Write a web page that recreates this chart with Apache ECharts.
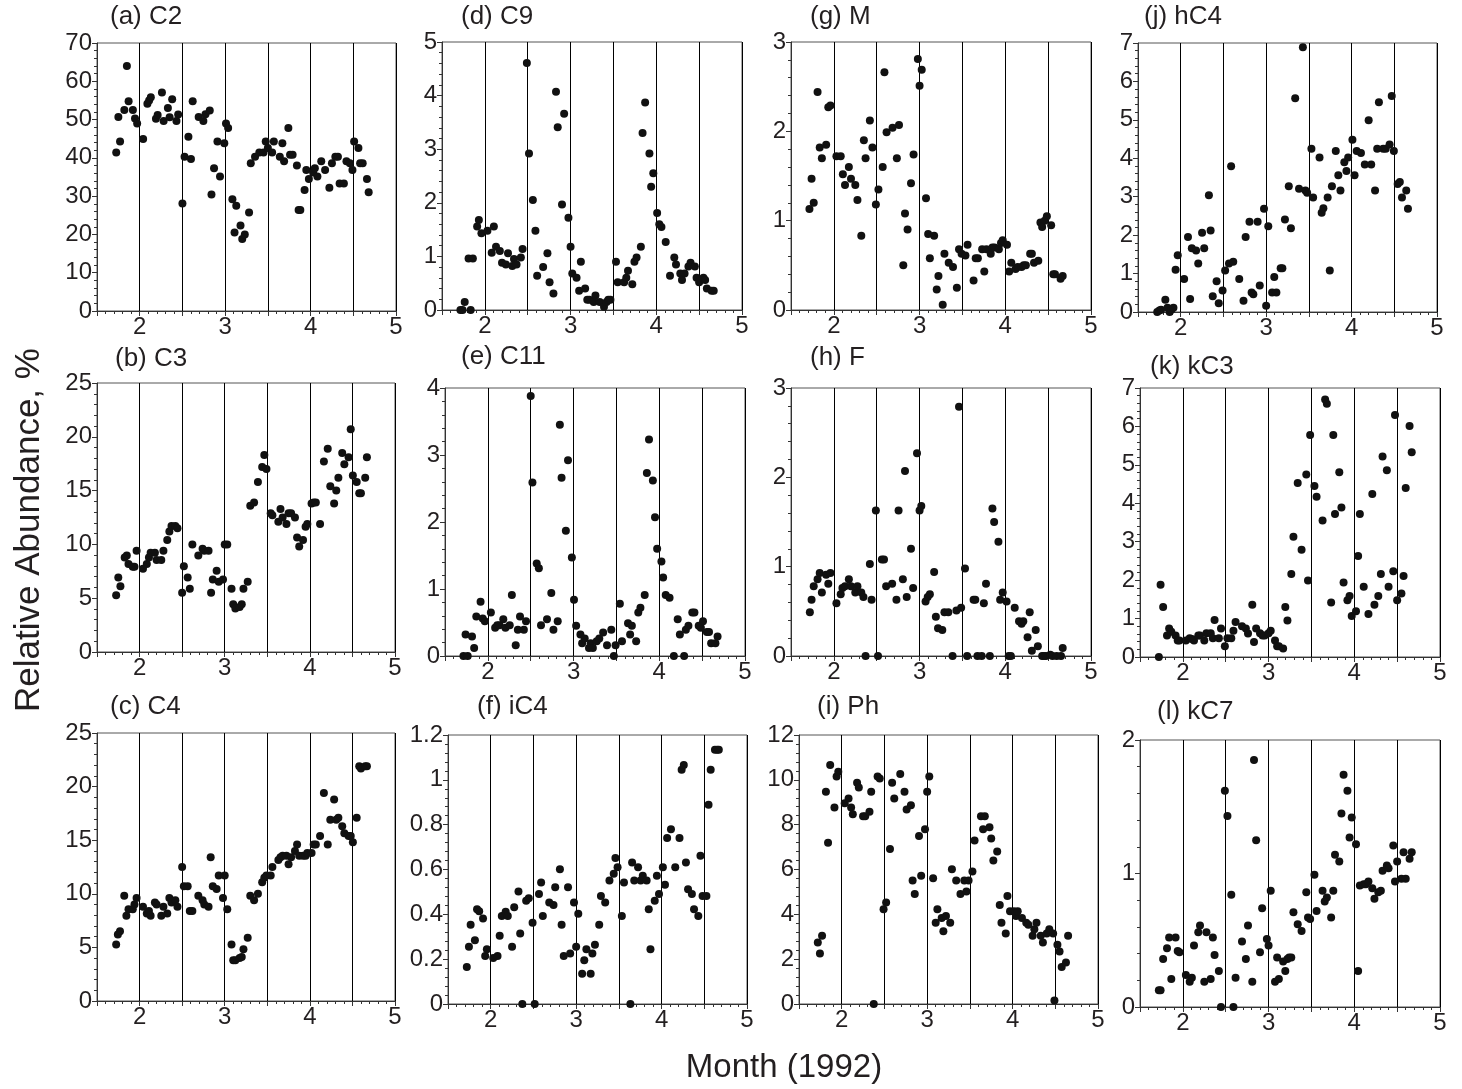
<!DOCTYPE html>
<html>
<head>
<meta charset="utf-8">
<script src="https://cdn.jsdelivr.net/npm/echarts@6/dist/echarts.min.js"></script>
<style>
html,body{margin:0;padding:0;background:#fff;}
#chart{width:1462px;height:1089px;}
</style>
</head>
<body>
<div id="chart"></div>
<script>
// ---- data: [month, relative abundance %] ----
const C2 = [[1.725,41.4],[1.75,50.7],[1.77,44.3],[1.82,52.5],[1.85,64.0],[1.87,54.8],[1.92,52.5],[1.945,50.3],[1.97,49.0],[2.04,44.9],[2.09,54.1],[2.11,55.0],[2.13,55.8],[2.19,50.2],[2.21,51.2],[2.26,57.1],[2.28,49.6],[2.33,53.0],[2.35,50.6],[2.38,55.3],[2.43,49.6],[2.45,51.3],[2.50,28.1],[2.525,40.3],[2.57,45.5],[2.60,39.7],[2.62,54.8],[2.69,50.7],[2.745,49.6],[2.77,51.4],[2.82,52.4],[2.84,30.4],[2.87,37.3],[2.91,44.3],[2.94,35.1],[2.99,43.8],[3.01,49.0],[3.035,47.8],[3.085,29.2],[3.11,20.5],[3.13,27.5],[3.18,22.3],[3.20,18.8],[3.23,20.0],[3.28,25.7],[3.30,38.6],[3.35,40.3],[3.40,41.4],[3.45,41.4],[3.475,44.3],[3.50,42.6],[3.55,41.4],[3.57,44.3],[3.64,40.3],[3.67,43.8],[3.69,39.1],[3.74,47.8],[3.76,40.8],[3.79,40.8],[3.84,38.0],[3.86,26.4],[3.88,26.4],[3.93,31.6],[3.95,36.8],[3.98,34.5],[4.03,36.2],[4.05,37.3],[4.08,35.1],[4.125,39.1],[4.17,36.8],[4.22,32.2],[4.25,38.6],[4.29,40.3],[4.32,40.3],[4.34,33.3],[4.39,33.3],[4.42,39.1],[4.46,38.6],[4.49,36.8],[4.51,44.3],[4.56,42.6],[4.58,38.6],[4.61,38.6],[4.66,34.5],[4.68,31.0]];

const C3 = [[1.725,5.28],[1.75,6.93],[1.775,6.12],[1.825,8.79],[1.85,8.98],[1.87,8.17],[1.92,7.92],[1.94,7.92],[1.965,9.41],[2.04,7.73],[2.085,8.17],[2.11,8.79],[2.13,9.22],[2.18,9.22],[2.20,8.54],[2.255,8.54],[2.28,9.41],[2.325,10.4],[2.35,11.2],[2.375,11.7],[2.42,11.7],[2.445,11.5],[2.50,5.5],[2.52,7.98],[2.565,6.93],[2.59,5.87],[2.62,10.0],[2.69,8.98],[2.74,9.6],[2.76,9.41],[2.81,9.41],[2.84,5.5],[2.86,6.74],[2.905,7.55],[2.93,6.52],[2.98,6.74],[3.0,10.0],[3.03,10.0],[3.08,5.87],[3.10,4.44],[3.125,4.04],[3.175,4.19],[3.20,4.44],[3.22,5.87],[3.27,6.52],[3.30,13.6],[3.345,13.9],[3.39,15.8],[3.44,17.2],[3.465,18.3],[3.49,17.0],[3.54,12.9],[3.56,12.7],[3.63,12.1],[3.655,13.3],[3.68,12.5],[3.725,11.9],[3.75,12.9],[3.78,12.9],[3.825,12.5],[3.85,10.65],[3.875,9.81],[3.92,10.4],[3.95,11.65],[3.97,11.9],[4.02,13.8],[4.045,13.9],[4.07,13.9],[4.12,11.9],[4.165,17.7],[4.21,18.9],[4.24,15.4],[4.285,13.8],[4.31,15.0],[4.335,16.2],[4.38,18.5],[4.405,17.45],[4.455,18.1],[4.48,20.7],[4.505,16.4],[4.55,15.8],[4.58,14.75],[4.60,14.75],[4.65,16.2],[4.67,18.1]];

const C4 = [[1.725,5.27],[1.745,6.2],[1.77,6.5],[1.82,9.82],[1.845,7.95],[1.87,8.57],[1.92,8.57],[1.94,9.0],[1.965,9.6],[2.04,8.8],[2.085,8.17],[2.11,8.39],[2.13,7.95],[2.18,9.2],[2.20,9.0],[2.255,7.95],[2.28,8.8],[2.325,8.17],[2.35,9.6],[2.375,9.2],[2.42,9.4],[2.445,8.8],[2.50,12.5],[2.52,10.7],[2.565,10.7],[2.59,8.39],[2.62,8.39],[2.69,9.82],[2.74,9.4],[2.76,9.0],[2.81,8.8],[2.835,13.4],[2.86,10.7],[2.905,10.45],[2.93,11.7],[2.98,9.6],[3.0,11.7],[3.03,8.57],[3.08,5.27],[3.10,3.8],[3.125,3.8],[3.175,4.02],[3.20,4.1],[3.22,4.83],[3.27,5.9],[3.30,9.82],[3.345,9.4],[3.39,10.0],[3.44,11.07],[3.465,11.5],[3.49,11.7],[3.54,11.7],[3.56,12.5],[3.63,13.15],[3.655,13.4],[3.68,13.55],[3.725,13.55],[3.75,12.75],[3.78,13.4],[3.825,14.0],[3.85,14.6],[3.875,13.55],[3.92,13.55],[3.95,13.55],[3.97,13.8],[4.02,13.8],[4.045,14.6],[4.07,14.6],[4.12,15.4],[4.165,19.4],[4.21,14.6],[4.24,16.9],[4.285,18.8],[4.31,16.9],[4.335,17.1],[4.38,16.3],[4.405,15.65],[4.455,15.4],[4.48,15.4],[4.505,14.8],[4.55,17.1],[4.58,21.9],[4.60,21.7],[4.65,21.9],[4.67,21.9]];

const C9 = [[1.715,0],[1.74,0],[1.765,0.15],[1.81,0.96],[1.835,0],[1.86,0.96],[1.91,1.56],[1.93,1.68],[1.96,1.43],[2.03,1.48],[2.08,1.07],[2.105,1.56],[2.13,1.18],[2.175,1.10],[2.20,0.88],[2.245,0.85],[2.27,1.06],[2.32,0.82],[2.34,0.95],[2.37,0.85],[2.42,0.98],[2.44,1.14],[2.49,4.61],[2.515,2.92],[2.56,2.05],[2.59,1.48],[2.61,0.64],[2.68,0.80],[2.73,1.06],[2.755,0.52],[2.80,0.31],[2.83,4.07],[2.85,3.41],[2.90,1.97],[2.925,3.66],[2.975,1.72],[3.0,1.18],[3.02,0.68],[3.07,0.60],[3.10,0.36],[3.12,0.90],[3.17,0.40],[3.195,0.19],[3.22,0.19],[3.27,0.15],[3.29,0.27],[3.34,0.15],[3.39,0.06],[3.42,0.15],[3.44,0.19],[3.465,0.19],[3.53,0.90],[3.55,0.52],[3.625,0.52],[3.65,0.60],[3.67,0.73],[3.72,0.48],[3.745,0.90],[3.77,0.98],[3.82,1.18],[3.84,3.30],[3.87,3.87],[3.92,2.92],[3.94,2.30],[3.965,2.55],[4.01,1.81],[4.035,1.60],[4.06,1.55],[4.11,1.27],[4.16,0.64],[4.21,0.98],[4.23,0.85],[4.28,0.68],[4.30,0.56],[4.33,0.68],[4.375,0.81],[4.40,0.88],[4.45,0.81],[4.47,0.60],[4.50,0.52],[4.55,0.60],[4.57,0.56],[4.59,0.40],[4.645,0.36],[4.67,0.36]];

const C11 = [[1.715,0],[1.74,0.32],[1.765,0],[1.815,0.29],[1.84,0.12],[1.865,0.59],[1.915,0.81],[1.94,0.56],[1.965,0.52],[2.035,0.65],[2.085,0.42],[2.11,0.46],[2.135,0.46],[2.18,0.55],[2.205,0.42],[2.255,0.46],[2.28,0.91],[2.325,0.16],[2.35,0.39],[2.375,0.59],[2.42,0.39],[2.445,0.52],[2.50,3.88],[2.52,2.59],[2.57,1.38],[2.595,1.31],[2.62,0.46],[2.69,0.55],[2.74,0.94],[2.765,0.39],[2.815,0.52],[2.84,3.45],[2.86,2.66],[2.91,1.87],[2.935,2.92],[2.98,1.47],[3.005,0.84],[3.03,0.45],[3.08,0.32],[3.10,0.19],[3.13,0.26],[3.18,0.12],[3.20,0.19],[3.225,0.12],[3.27,0.22],[3.30,0.26],[3.345,0.35],[3.39,0.16],[3.44,0.39],[3.47,0],[3.49,0.16],[3.54,0.78],[3.565,0.22],[3.635,0.49],[3.66,0.32],[3.68,0.45],[3.73,0.22],[3.755,0.65],[3.78,0.72],[3.83,0.91],[3.855,2.73],[3.88,3.23],[3.925,2.62],[3.95,2.07],[3.975,1.60],[4.025,1.41],[4.045,1.17],[4.075,0.91],[4.12,0.87],[4.17,0],[4.215,0.55],[4.24,0.32],[4.29,0],[4.31,0.39],[4.34,0.45],[4.385,0.65],[4.41,0.65],[4.46,0.45],[4.485,0.42],[4.51,0.52],[4.555,0.36],[4.58,0.36],[4.605,0.19],[4.655,0.19],[4.68,0.29]];

const iC4 = [[1.72,0.165],[1.745,0.255],[1.765,0.353],[1.815,0.284],[1.84,0.423],[1.865,0.414],[1.91,0.381],[1.935,0.214],[1.955,0.244],[2.03,0.205],[2.08,0.214],[2.105,0.304],[2.13,0.393],[2.175,0.412],[2.20,0.393],[2.25,0.255],[2.275,0.432],[2.325,0.502],[2.345,0.314],[2.37,0],[2.415,0.461],[2.445,0.472],[2.49,0.363],[2.515,0],[2.565,0.491],[2.59,0.542],[2.61,0.393],[2.685,0.453],[2.735,0.442],[2.755,0.521],[2.81,0.601],[2.83,0.353],[2.855,0.214],[2.905,0.521],[2.93,0.225],[2.975,0.453],[3.0,0.255],[3.025,0.403],[3.07,0.135],[3.095,0.195],[3.12,0.244],[3.17,0.135],[3.19,0.225],[3.22,0.264],[3.27,0.353],[3.29,0.482],[3.34,0.453],[3.39,0.551],[3.44,0.581],[3.46,0.651],[3.485,0.610],[3.535,0.393],[3.56,0.542],[3.635,0],[3.655,0.631],[3.68,0.551],[3.725,0.610],[3.755,0.551],[3.78,0.572],[3.825,0.551],[3.85,0.423],[3.87,0.244],[3.92,0.461],[3.945,0.572],[3.97,0.491],[4.015,0.610],[4.04,0.532],[4.065,0.740],[4.11,0.780],[4.16,0.610],[4.21,0.740],[4.235,1.045],[4.26,1.066],[4.285,0.631],[4.31,0.512],[4.355,0.491],[4.38,0.423],[4.43,0.393],[4.455,0.661],[4.48,0.482],[4.525,0.482],[4.55,0.889],[4.575,1.045],[4.625,1.134],[4.65,1.134],[4.67,1.134]];

const M = [[1.715,1.13],[1.74,1.47],[1.765,1.20],[1.81,2.44],[1.835,1.82],[1.86,1.70],[1.91,1.85],[1.935,2.27],[1.96,2.29],[2.03,1.72],[2.08,1.72],[2.105,1.52],[2.13,1.40],[2.175,1.60],[2.20,1.47],[2.25,1.40],[2.275,1.23],[2.32,0.83],[2.35,1.90],[2.37,1.70],[2.42,2.12],[2.45,1.82],[2.49,1.18],[2.52,1.35],[2.57,1.60],[2.59,2.66],[2.615,1.99],[2.685,2.04],[2.735,1.70],[2.76,2.07],[2.81,0.50],[2.83,1.08],[2.86,0.90],[2.90,1.42],[2.93,1.74],[2.98,2.81],[3.0,2.51],[3.025,2.69],[3.075,1.25],[3.10,0.85],[3.12,0.58],[3.17,0.83],[3.20,0.23],[3.22,0.38],[3.27,0.06],[3.29,0.63],[3.34,0.53],[3.39,0.48],[3.435,0.25],[3.46,0.68],[3.49,0.63],[3.535,0.61],[3.56,0.73],[3.63,0.33],[3.655,0.58],[3.68,0.58],[3.73,0.68],[3.755,0.43],[3.78,0.68],[3.83,0.63],[3.85,0.70],[3.875,0.70],[3.925,0.68],[3.95,0.75],[3.97,0.78],[4.02,0.73],[4.045,0.43],[4.07,0.53],[4.12,0.46],[4.145,0.48],[4.19,0.48],[4.215,0.50],[4.24,0.50],[4.29,0.63],[4.31,0.63],[4.335,0.53],[4.385,0.55],[4.41,0.98],[4.43,0.93],[4.46,1.00],[4.485,1.05],[4.535,0.95],[4.56,0.40],[4.58,0.40],[4.645,0.35],[4.67,0.38]];

const F = [[1.72,0.49],[1.74,0.63],[1.765,0.78],[1.81,0.86],[1.835,0.93],[1.86,0.71],[1.91,0.91],[1.935,0.81],[1.96,0.93],[2.03,0.59],[2.08,0.69],[2.10,0.76],[2.13,0.78],[2.175,0.86],[2.20,0.78],[2.25,0.71],[2.275,0.78],[2.32,0.71],[2.345,0.66],[2.37,0],[2.42,1.03],[2.44,0.63],[2.49,1.63],[2.515,0],[2.56,1.08],[2.585,1.08],[2.61,0.78],[2.68,0.81],[2.73,0.63],[2.755,1.63],[2.805,0.86],[2.83,2.07],[2.85,0.66],[2.90,1.20],[2.925,0.76],[2.97,2.27],[3.0,1.63],[3.02,1.68],[3.07,0.61],[3.095,0.66],[3.12,0.69],[3.17,0.94],[3.19,0.44],[3.215,0.31],[3.265,0.29],[3.29,0.49],[3.335,0.49],[3.385,0],[3.43,0.51],[3.46,2.79],[3.485,0.54],[3.53,0.98],[3.555,0],[3.63,0.63],[3.65,0.63],[3.675,0],[3.725,0],[3.75,0.59],[3.775,0.81],[3.82,0],[3.85,1.65],[3.87,1.50],[3.92,1.28],[3.94,0.63],[3.97,0.71],[4.015,0.61],[4.04,0],[4.065,0],[4.11,0.54],[4.16,0.39],[4.19,0.36],[4.21,0.39],[4.26,0.21],[4.285,0.49],[4.31,0.06],[4.355,0.29],[4.38,0.11],[4.43,0],[4.45,0],[4.475,0],[4.525,0.015],[4.55,0],[4.60,0],[4.65,0],[4.67,0.09]];

const Ph = [[1.72,2.74],[1.745,2.25],[1.77,3.04],[1.815,9.47],[1.84,7.19],[1.865,10.66],[1.915,8.77],[1.94,10.15],[1.96,10.36],[2.035,8.96],[2.08,9.17],[2.11,8.77],[2.13,8.47],[2.18,9.87],[2.20,9.66],[2.25,8.38],[2.275,8.38],[2.325,8.58],[2.345,9.47],[2.375,0],[2.42,10.15],[2.445,10.06],[2.49,4.23],[2.52,4.53],[2.565,6.91],[2.59,9.87],[2.615,9.17],[2.685,10.26],[2.735,9.47],[2.76,8.68],[2.81,8.87],[2.83,5.51],[2.855,4.91],[2.905,7.49],[2.93,5.72],[2.975,7.79],[3.0,9.47],[3.025,10.15],[3.07,5.61],[3.10,3.63],[3.12,4.23],[3.17,3.84],[3.19,3.25],[3.22,3.93],[3.27,3.63],[3.29,6.01],[3.34,5.51],[3.39,4.91],[3.435,5.51],[3.46,5.02],[3.485,5.51],[3.53,5.91],[3.555,7.29],[3.63,8.38],[3.655,7.79],[3.675,8.38],[3.73,7.89],[3.75,7.38],[3.775,6.40],[3.82,6.80],[3.85,4.42],[3.87,3.63],[3.92,3.14],[3.94,4.82],[3.97,4.14],[4.015,4.14],[4.04,3.93],[4.06,4.14],[4.11,3.84],[4.16,3.63],[4.185,3.53],[4.235,3.04],[4.255,3.33],[4.28,3.63],[4.33,3.04],[4.355,2.74],[4.40,3.14],[4.43,3.33],[4.475,3.14],[4.49,0.16],[4.525,2.64],[4.55,2.34],[4.575,1.65],[4.625,1.85],[4.65,3.04]];

const hC4 = [[1.725,0],[1.75,0.04],[1.77,0.06],[1.82,0.32],[1.845,0.11],[1.87,0],[1.89,0.06],[1.915,0.11],[1.94,1.1],[1.965,1.48],[2.04,0.86],[2.085,1.95],[2.11,0.34],[2.13,1.66],[2.18,1.60],[2.205,1.26],[2.25,2.06],[2.275,1.66],[2.33,3.04],[2.35,2.12],[2.375,0.41],[2.42,0.80],[2.445,0.23],[2.49,0.56],[2.52,1.08],[2.565,1.26],[2.59,3.79],[2.615,1.31],[2.685,0.86],[2.735,0.29],[2.76,1.95],[2.805,2.35],[2.83,0.51],[2.85,0.46],[2.90,2.35],[2.925,0.69],[2.975,2.69],[3.0,0.16],[3.025,2.23],[3.07,0.51],[3.095,0.91],[3.12,0.51],[3.17,1.14],[3.19,1.14],[3.22,2.41],[3.265,3.27],[3.29,2.18],[3.34,5.56],[3.385,3.21],[3.43,6.89],[3.46,3.16],[3.48,3.10],[3.53,4.25],[3.55,2.98],[3.625,4.02],[3.65,2.58],[3.67,2.70],[3.72,2.98],[3.745,1.08],[3.77,3.27],[3.815,4.19],[3.845,3.56],[3.87,3.16],[3.915,3.90],[3.94,3.67],[3.96,4.02],[4.01,4.48],[4.035,3.56],[4.06,4.19],[4.11,4.14],[4.155,3.84],[4.20,4.99],[4.23,3.84],[4.275,3.16],[4.30,4.25],[4.32,5.46],[4.37,4.25],[4.40,4.25],[4.445,4.36],[4.47,5.62],[4.495,4.19],[4.54,3.33],[4.565,3.38],[4.59,2.98],[4.64,3.16],[4.66,2.69]];

const kC3 = [[1.72,0],[1.74,1.88],[1.77,1.30],[1.815,0.56],[1.84,0.74],[1.865,0.66],[1.915,0.56],[1.94,0.43],[1.96,0.43],[2.035,0.43],[2.08,0.49],[2.105,0.47],[2.13,0.43],[2.18,0.56],[2.20,0.56],[2.25,0.43],[2.275,0.62],[2.325,0.62],[2.35,0.49],[2.37,0.96],[2.42,0.49],[2.445,0.74],[2.49,0.28],[2.52,0.49],[2.565,0.49],[2.59,0.68],[2.615,0.91],[2.69,0.80],[2.735,0.74],[2.76,0.61],[2.81,1.36],[2.83,0.39],[2.855,0.74],[2.90,0.62],[2.93,0.56],[2.955,0.56],[3.0,0.62],[3.025,0.68],[3.075,0.43],[3.10,0.28],[3.12,0.28],[3.17,0.22],[3.195,1.30],[3.22,0.95],[3.265,2.16],[3.29,3.13],[3.34,4.53],[3.385,2.79],[3.44,4.75],[3.46,1.99],[3.485,5.78],[3.535,4.45],[3.56,4.17],[3.63,3.55],[3.66,6.70],[3.68,6.59],[3.73,1.42],[3.755,5.78],[3.775,3.72],[3.825,4.81],[3.85,3.89],[3.875,1.94],[3.92,1.48],[3.945,1.59],[3.97,1.07],[4.02,1.19],[4.045,2.63],[4.065,3.72],[4.11,1.83],[4.165,1.12],[4.21,4.24],[4.235,1.36],[4.28,1.59],[4.31,2.16],[4.33,5.22],[4.38,4.86],[4.40,1.83],[4.455,2.23],[4.475,6.30],[4.50,1.48],[4.55,1.65],[4.575,2.11],[4.60,4.40],[4.645,6.01],[4.67,5.33]];

const kC7 = [[1.72,0.125],[1.74,0.125],[1.77,0.36],[1.815,0.44],[1.84,0.52],[1.865,0.21],[1.915,0.52],[1.94,0.42],[1.96,0.41],[2.035,0.24],[2.08,0.19],[2.105,0.22],[2.13,0.46],[2.18,0.56],[2.20,0.61],[2.25,0.19],[2.275,0.56],[2.325,0.21],[2.35,0.52],[2.37,0.39],[2.42,0.27],[2.445,0],[2.49,1.62],[2.52,1.43],[2.565,0.84],[2.59,0],[2.615,0.22],[2.69,0.49],[2.735,0.36],[2.76,0.61],[2.81,0.19],[2.83,1.85],[2.855,1.25],[2.90,0.41],[2.925,0.74],[2.98,0.51],[3.0,0.46],[3.025,0.87],[3.075,0.19],[3.10,0.37],[3.12,0.21],[3.17,0.34],[3.195,0.27],[3.22,0.36],[3.24,0.37],[3.265,0.37],[3.29,0.71],[3.34,0.62],[3.385,0.57],[3.44,0.86],[3.46,0.67],[3.485,0.66],[3.535,0.99],[3.56,0.72],[3.63,0.87],[3.655,0.79],[3.68,0.82],[3.73,0.67],[3.755,0.87],[3.775,1.14],[3.825,1.09],[3.85,1.45],[3.875,1.74],[3.92,1.62],[3.945,1.27],[3.97,1.42],[4.02,1.22],[4.045,0.27],[4.065,0.91],[4.11,0.92],[4.135,0.92],[4.165,0.94],[4.21,0.89],[4.235,0.81],[4.28,0.86],[4.31,0.87],[4.33,1.02],[4.38,1.06],[4.40,1.04],[4.455,1.21],[4.475,0.94],[4.50,1.09],[4.55,0.96],[4.575,1.16],[4.60,0.96],[4.645,1.11],[4.67,1.16]];

const panelTitles = ['(a) C2','(b) C3','(c) C4','(d) C9','(e) C11','(f) iC4','(g) M','(h) F','(i) Ph','(j) hC4','(k) kC3','(l) kC7'];
const panelData = [C2, C3, C4, C9, C11, iC4, M, F, Ph, hC4, kC3, kC7];
const yMax = [70, 25, 25, 5, 4, 1.2, 3, 3, 12, 7, 7, 2];
const yStep = [10, 5, 5, 1, 1, 0.2, 1, 1, 2, 1, 1, 1];
const xMin = 1.5, xMax = 5, xStep = 0.5;
const yAxisName = 'Relative Abundance, %';
const xAxisName = 'Month (1992)';

// ---- layout ----
const grids = [
  {left: 97,  top: 43,  width: 299, height: 268},
  {left: 97,  top: 383, width: 298, height: 269},
  {left: 97,  top: 733, width: 298, height: 268},
  {left: 442, top: 42,  width: 300, height: 268},
  {left: 445, top: 388, width: 300, height: 268},
  {left: 448, top: 735, width: 299, height: 269},
  {left: 791, top: 42,  width: 300, height: 268},
  {left: 791, top: 388, width: 300, height: 268},
  {left: 799, top: 735, width: 299, height: 269},
  {left: 1138, top: 43, width: 299, height: 269},
  {left: 1140, top: 388, width: 300, height: 269},
  {left: 1140, top: 740, width: 300, height: 267}
];
const titlePos = [
  [110, 4], [115, 346], [110, 694],
  [461, 4], [461, 344], [477, 694],
  [810, 4], [810, 345], [817, 694],
  [1144, 4], [1150, 354], [1157, 699]
];

const FONT = '"Liberation Sans", Arial, Helvetica, sans-serif';
const TXT = '#231f20';

const chart = echarts.init(document.getElementById('chart'), null, {renderer: 'canvas'});
const option = {
  backgroundColor: '#fff',
  animation: false,
  title: panelTitles.map((t, i) => ({
    text: t, left: titlePos[i][0], top: titlePos[i][1], padding: 0,
    textStyle: {fontFamily: FONT, fontSize: 26, fontWeight: 'normal', color: TXT}
  })),
  grid: grids.map(g => Object.assign({show: true, borderColor: '#555', borderWidth: 1, backgroundColor: 'transparent'}, g)),
  xAxis: grids.map((g, i) => ({
    type: 'value', gridIndex: i, min: xMin, max: xMax, interval: xStep,
    axisLine: {show: true, onZero: false, lineStyle: {color: '#333', width: 1}},
    axisTick: {show: true, length: 5, lineStyle: {color: '#333'}},
    minorTick: {show: true, splitNumber: 5, length: 3, lineStyle: {color: '#333'}},
    axisLabel: {
      fontFamily: FONT, fontSize: 24, color: TXT, margin: 4,
      formatter: v => (Math.abs(v - Math.round(v)) < 1e-6 ? String(Math.round(v)) : '')
    },
    splitLine: {show: true, lineStyle: {color: '#000', width: 1}}
  })),
  yAxis: grids.map((g, i) => ({
    type: 'value', gridIndex: i, min: 0, max: yMax[i], interval: yStep[i],
    axisLine: {show: true, onZero: false, lineStyle: {color: '#333', width: 1}},
    axisTick: {show: true, length: 5, lineStyle: {color: '#333'}},
    minorTick: {show: true, splitNumber: 5, length: 3, lineStyle: {color: '#333'}},
    axisLabel: {fontFamily: FONT, fontSize: 24, color: TXT, margin: 5},
    splitLine: {show: false}
  })),
  series: panelData.map((d, i) => ({
    type: 'scatter', xAxisIndex: i, yAxisIndex: i, data: d,
    symbol: 'circle', symbolSize: 8, clip: false,
    itemStyle: {color: '#111', opacity: 1}
  })),
  graphic: [
    {type: 'text', x: 29, y: 530, rotation: Math.PI / 2,
     style: {text: yAxisName, font: '35px ' + FONT, fill: TXT, textAlign: 'center', textVerticalAlign: 'middle', verticalAlign: 'middle'}},
    {type: 'text', x: 784, y: 1068,
     style: {text: xAxisName, font: '33px ' + FONT, fill: TXT, textAlign: 'center', textVerticalAlign: 'middle', verticalAlign: 'middle'}}
  ]
};
chart.setOption(option);
</script>
</body>
</html>
